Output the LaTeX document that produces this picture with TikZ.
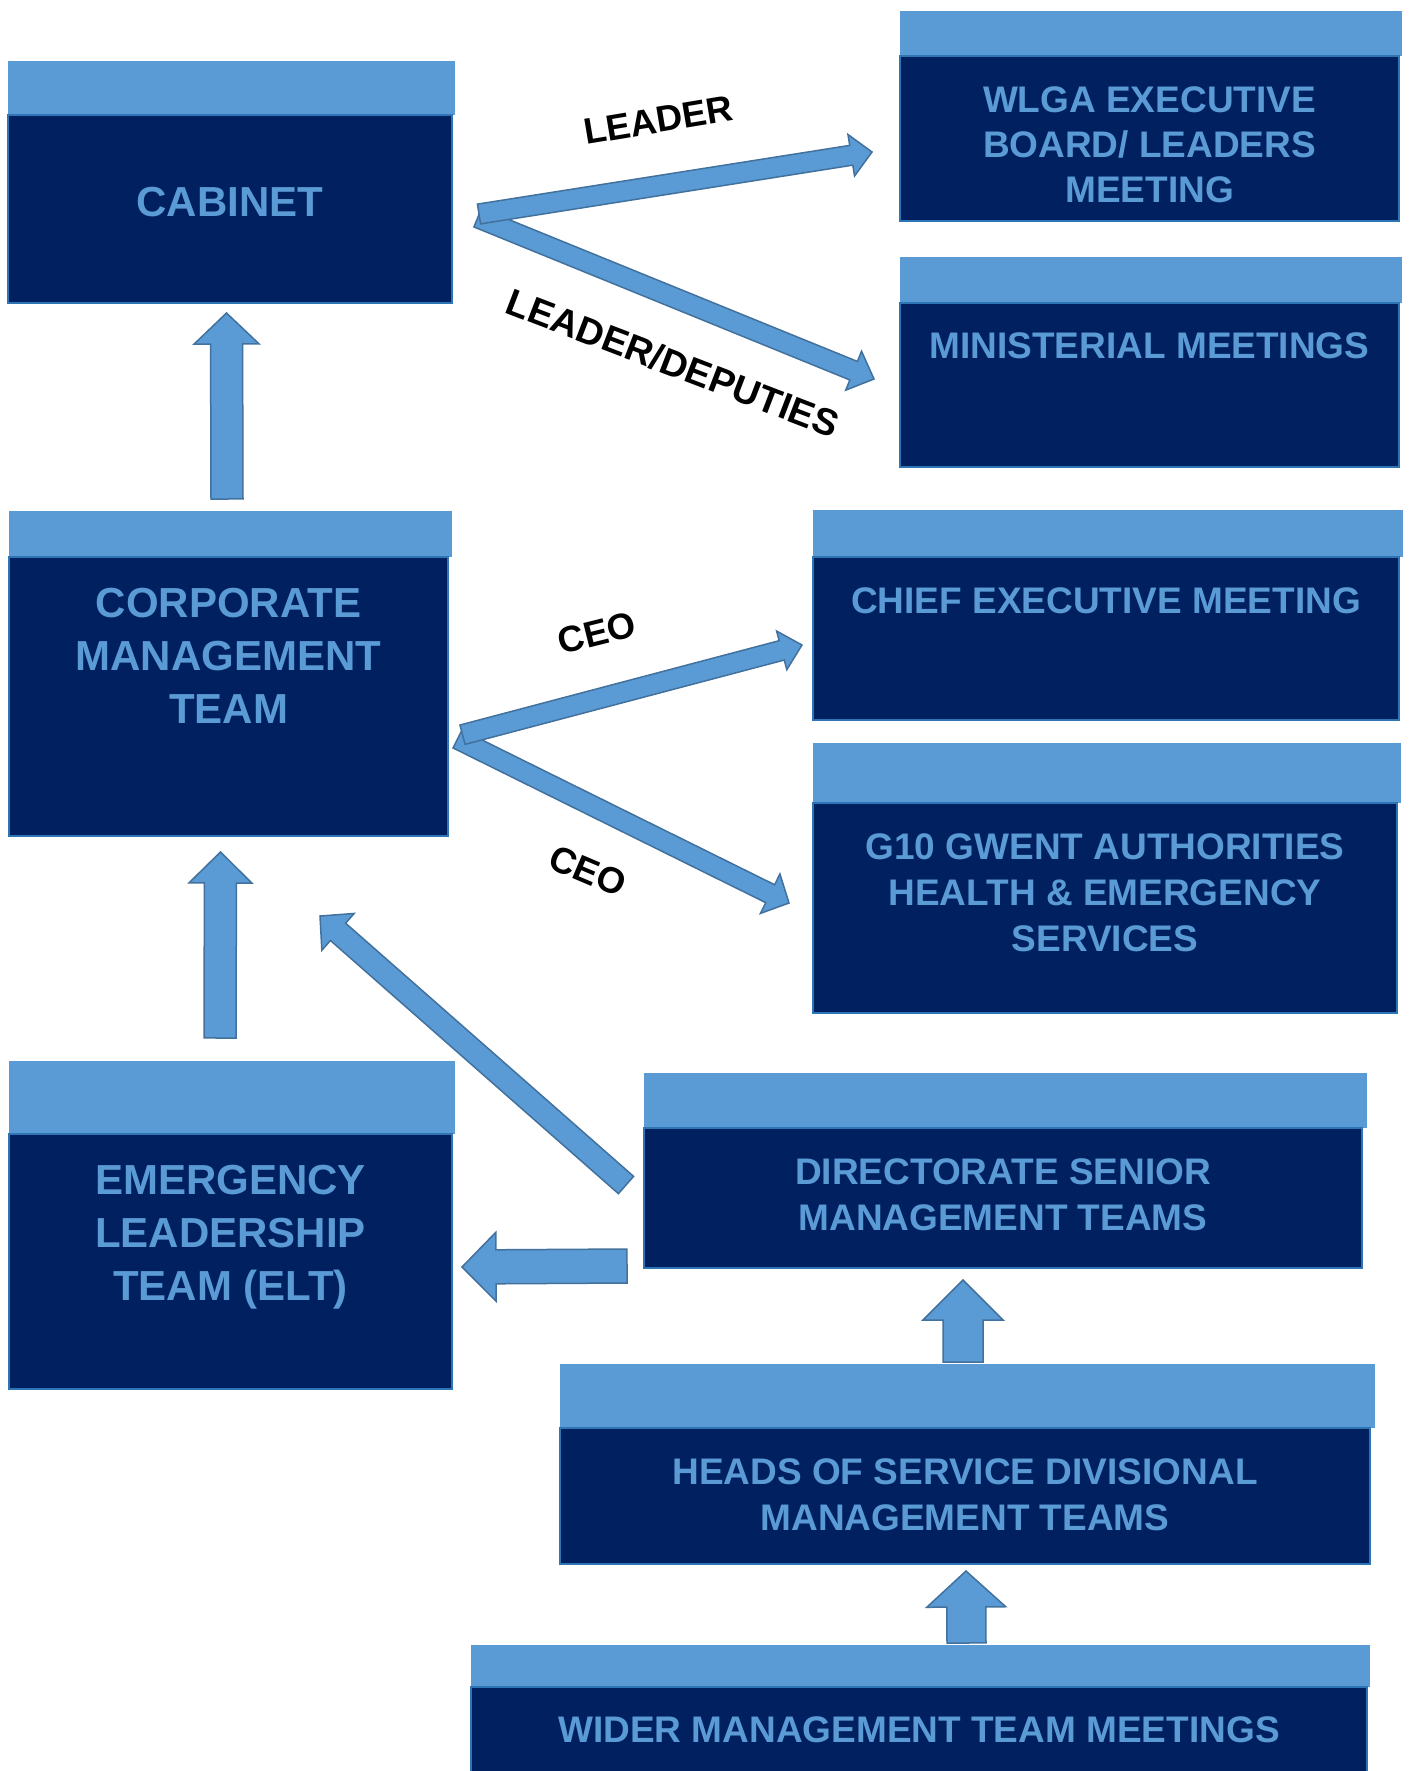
\documentclass[tikz,border=0pt]{standalone}
\usepackage{fontspec}
\setmainfont{Liberation Sans}
\usetikzlibrary{positioning,calc}

\definecolor{barblue}{HTML}{5B9BD5}
\definecolor{navy}{HTML}{002060}
\definecolor{edgeblue}{HTML}{2E75B6}
\definecolor{arrowedge}{HTML}{41719C}

\tikzset{
  headbar/.style={fill=barblue, inner sep=0pt, outer sep=0pt, anchor=north west},
  panel/.style={fill=navy, draw=edgeblue, line width=1.2pt, inner sep=0pt, outer sep=0pt},
  paneltext/.style={text=barblue, align=center, font=\fontsize{37}{46}\selectfont\bfseries},
  bigtext/.style={paneltext, font=\fontsize{42}{53}\selectfont\bfseries},
  flowlabel/.style={font=\fontsize{36.5}{42}\selectfont\bfseries},
  arrowfill/.style={fill=barblue, draw=arrowedge, line width=1.5pt, line join=miter},
}

% block arrow: tail, tip, shaft half width, head half width, head length
\newcommand\bigarrow[5]{%
  \coordinate (hb) at ($(#2)!#5!(#1)$);
  \filldraw[arrowfill] ($(#1)!#3!90:(#2)$) -- ($(hb)!#3!90:(#2)$) -- ($(hb)!#4!90:(#2)$) -- (#2)
    -- ($(hb)!#4!-90:(#2)$) -- ($(hb)!#3!-90:(#2)$) -- ($(#1)!#3!-90:(#2)$) -- cycle;
}

\begin{document}
\begin{tikzpicture}[x=1pt, y=-1pt]
\useasboundingbox (0,0) rectangle (1408,1771);

% left column
\node[headbar, minimum width=447pt, minimum height=54pt] (cabinet-bar) at (8,61) {};
\node[panel, minimum width=444pt, minimum height=188pt, below right=0pt of cabinet-bar.south west] (cabinet) {};
\node[bigtext] (cabinet-text) at ([yshift=-87pt]cabinet.north) {CABINET};

\node[headbar, minimum width=443pt, minimum height=46pt] (cmt-bar) at (9,511) {};
\node[panel, minimum width=439pt, minimum height=279pt, below right=0pt of cmt-bar.south west] (cmt) {};
\node[bigtext] (cmt-text) at ([yshift=-99pt]cmt.north) {CORPORATE\\MANAGEMENT\\TEAM};

\node[headbar, minimum width=446pt, minimum height=73pt] (elt-bar) at (9,1061) {};
\node[panel, minimum width=443pt, minimum height=255pt, below right=0pt of elt-bar.south west] (elt) {};
\node[bigtext] (elt-text) at ([yshift=-103pt]elt.north) {EMERGENCY\\LEADERSHIP\\TEAM (ELT)};

% right column
\node[headbar, minimum width=502pt, minimum height=45pt] (wlga-bar) at (900,11) {};
\node[panel, minimum width=499pt, minimum height=165pt, below right=0pt of wlga-bar.south west] (wlga) {};
\node[paneltext, font=\fontsize{37}{45}\selectfont\bfseries] (wlga-text) at ([yshift=-89pt]wlga.north) {WLGA EXECUTIVE\\BOARD/ LEADERS\\MEETING};

\node[headbar, minimum width=502pt, minimum height=46pt] (minister-bar) at (900,257) {};
\node[panel, minimum width=499pt, minimum height=164pt, below right=0pt of minister-bar.south west] (minister) {};
\node[paneltext] (minister-text) at ([yshift=-43pt]minister.north) {MINISTERIAL MEETINGS};

\node[headbar, minimum width=590pt, minimum height=47pt] (chief-bar) at (813,510) {};
\node[panel, minimum width=586pt, minimum height=163pt, below right=0pt of chief-bar.south west] (chief) {};
\node[paneltext] (chief-text) at ([yshift=-43.5pt]chief.north) {CHIEF EXECUTIVE MEETING};

\node[headbar, minimum width=588pt, minimum height=60pt] (gwent-bar) at (813,743) {};
\node[panel, minimum width=584pt, minimum height=210pt, below right=0pt of gwent-bar.south west] (gwent) {};
\node[paneltext] (gwent-text) at ([yshift=-90pt]gwent.north) {G10 GWENT AUTHORITIES\\HEALTH \& EMERGENCY\\SERVICES};

% lower chain
\node[headbar, minimum width=723pt, minimum height=55pt] (dsmt-bar) at (644,1073) {};
\node[panel, minimum width=718pt, minimum height=140pt, below right=0pt of dsmt-bar.south west] (dsmt) {};
\node[paneltext] (dsmt-text) at ([yshift=-66.5pt]dsmt.north) {DIRECTORATE SENIOR\\MANAGEMENT TEAMS};

\node[headbar, minimum width=815pt, minimum height=64pt] (heads-bar) at (560,1364) {};
\node[panel, minimum width=810pt, minimum height=136pt, below right=0pt of heads-bar.south west] (heads) {};
\node[paneltext] (heads-text) at ([yshift=-66.5pt]heads.north) {HEADS OF SERVICE DIVISIONAL\\MANAGEMENT TEAMS};

\node[headbar, minimum width=899pt, minimum height=42pt] (wider-bar) at (471,1645) {};
\node[panel, minimum width=896pt, minimum height=110pt, below right=0pt of wider-bar.south west] (wider) {};
\node[paneltext] (wider-text) at ([yshift=-43pt]wider.north) {WIDER MANAGEMENT TEAM MEETINGS};

% arrow ends
\coordinate (cmt-up) at (227,499);    \coordinate (cabinet-in) at (226.5,313);
\coordinate (elt-up) at (220,1038);   \coordinate (cmt-in) at (220.5,852);
\coordinate (dsmt-nw) at (626,1185);  \coordinate (cmt-in2) at (320,916);
\coordinate (dsmt-w) at (627,1266);   \coordinate (elt-in) at (462,1267);
\coordinate (heads-up) at (963,1362); \coordinate (dsmt-in) at (963,1280);
\coordinate (wider-up) at (966.5,1643); \coordinate (heads-in) at (966,1571);
\coordinate (cab-a) at (479,214);     \coordinate (wlga-in) at (872,152);
\coordinate (cab-b) at (477.7,217.7); \coordinate (minister-in) at (874,379);
\coordinate (cmt-a) at (462.5,734.7); \coordinate (chief-in) at (802,645);
\coordinate (cmt-b) at (457.5,739);   \coordinate (gwent-in) at (789,903);

\bigarrow{cmt-up}{cabinet-in}{16pt}{32.5pt}{31pt}
\bigarrow{elt-up}{cmt-in}{16pt}{31.5pt}{31pt}
\bigarrow{dsmt-nw}{cmt-in2}{11.5pt}{24.5pt}{24pt}
\bigarrow{dsmt-w}{elt-in}{17pt}{34.5pt}{34pt}
\bigarrow{heads-up}{dsmt-in}{20pt}{40pt}{40pt}
\bigarrow{wider-up}{heads-in}{19.5pt}{39.5pt}{36pt}
\bigarrow{cab-b}{minister-in}{10pt}{21pt}{22pt}
\bigarrow{cab-a}{wlga-in}{10pt}{21pt}{21pt}
\bigarrow{cmt-b}{gwent-in}{10pt}{22pt}{21pt}
\bigarrow{cmt-a}{chief-in}{10pt}{20pt}{21pt}

% labels
\node[flowlabel, rotate=9.5] (leader-lbl) at (658,120) {LEADER};
\node[flowlabel, font=\fontsize{37.5}{42}\selectfont\bfseries, rotate=-21] (deputies-lbl) at (673,363) {LEADER/DEPUTIES};
\node[flowlabel, rotate=14] (ceo-lbl-a) at (597,633) {CEO};
\node[flowlabel, rotate=-23] (ceo-lbl-b) at (588,871) {CEO};
\end{tikzpicture}
\end{document}
